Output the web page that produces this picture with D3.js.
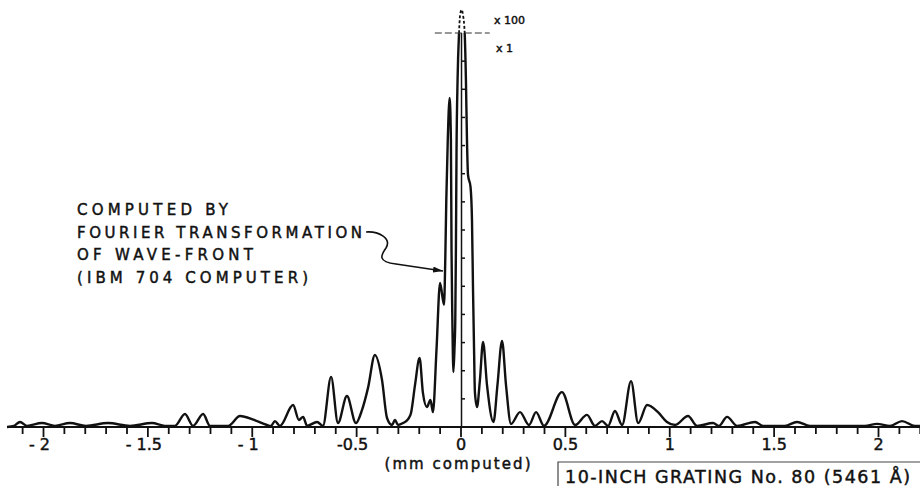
<!DOCTYPE html>
<html>
<head>
<meta charset="utf-8">
<script src="https://cdn.jsdelivr.net/npm/d3@7"></script>
<style>
body { margin: 0; background: #fff; }
text { font-family: "DejaVu Sans", sans-serif; fill: #111; stroke: #111; stroke-width: 0.45px; }
</style>
</head>
<body>
<svg width="920" height="486"></svg>
<script>
// [mm, intensity] pairs, left wing / central lobes / right wing
var leftWing = [
	[-2.172, 0], [-2.139, 0.04], [-2.110, 0.18], [-2.077, 0.04], [-2.005, 0.14], [-1.943, 0.04],
	[-1.871, 0.14], [-1.794, 0.04], [-1.689, 0.14], [-1.583, 0.04], [-1.478, 0.14], [-1.416, 0.04],
	[-1.368, 0.04], [-1.320, 0.46], [-1.281, 0.04], [-1.233, 0.46], [-1.200, 0.04], [-1.113, 0.04],
	[-1.056, 0.39], [-0.989, 0.25], [-0.927, 0.07], [-0.908, 0.04], [-0.889, 0.21], [-0.865, 0.04],
	[-0.802, 0.78], [-0.774, 0.25], [-0.754, 0.36], [-0.735, 0.04], [-0.687, 0.18], [-0.659, 0.04],
	[-0.620, 1.78], [-0.587, 0.14], [-0.544, 1.10], [-0.501, 0.14], [-0.472, 0.60], [-0.443, 1.39],
	[-0.410, 2.56], [-0.376, 1.67], [-0.352, 0.32], [-0.328, 0.07], [-0.314, 0.25], [-0.299, 0.07],
	[-0.275, 0.14], [-0.251, 0.28], [-0.237, 0.50], [-0.218, 1.49], [-0.196, 2.45], [-0.180, 1.21],
	[-0.161, 0.71], [-0.144, 0.96], [-0.132, 0.53], [-0.115, 2.74], [-0.098, 5.12]
];
var centralLobes = [
	[-0.079, 4.34], [-0.073, 5.93], [-0.068, 8.07], [-0.061, 10.20], [-0.052, 11.69], [-0.046, 10.20],
	[-0.043, 6.29], [-0.039, 3.80], [-0.034, 1.95], [-0.029, 2.74], [-0.025, 3.80], [-0.022, 6.29],
	[-0.019, 9.84], [-0.014, 12.33], [-0.007, 14.00], [-0.002, 14.64], [0.005, 14.82], [0.012, 14.64],
	[0.020, 14.00], [0.026, 12.33], [0.031, 10.20], [0.036, 8.96], [0.048, 8.53], [0.055, 7.36],
	[0.060, 4.87], [0.065, 2.74], [0.069, 1.24], [0.079, 0.71]
];
var rightWing = [
	[0.093, 1.67], [0.108, 3.02], [0.127, 1.49], [0.158, 0.18], [0.177, 1.49], [0.199, 3.06],
	[0.218, 1.49], [0.242, 0.11], [0.285, 0.53], [0.328, 0.07], [0.362, 0.53], [0.400, 0.04],
	[0.486, 1.24], [0.549, 0.07], [0.606, 0.43], [0.644, 0.04], [0.678, 0.21], [0.707, 0.04],
	[0.740, 0.57], [0.774, 0.07], [0.817, 1.63], [0.851, 0.14], [0.894, 0.78], [0.946, 0.53],
	[0.989, 0.18], [1.028, 0.07], [1.090, 0.39], [1.133, 0.04], [1.210, 0.14], [1.238, 0.04],
	[1.277, 0.36], [1.325, 0.04], [1.411, 0.18], [1.449, 0.04], [1.554, 0.04], [1.612, 0.18],
	[1.674, 0.04], [1.937, 0.04], [1.995, 0.11], [2.057, 0.04], [2.115, 0.21], [2.177, 0.04],
	[2.201, 0.04]
];
var majorTicks = [-2, -1.5, -1, -0.5, 0, 0.5, 1, 1.5, 2];
var tickLabels = ["- 2", "- 1.5", "- 1", "-0.5", "0", "0.5", "1", "1.5", "2"];
var yTicks = d3.range(1, 14);
var noteLines = ["COMPUTED BY", "FOURIER TRANSFORMATION", "OF WAVE-FRONT", "(IBM 704 COMPUTER)"];

var series = leftWing.concat(centralLobes, rightWing);

var svg = d3.select("svg");
var x = d3.scaleLinear().domain([-2, 2]).range([43, 878]);
var y = d3.scaleLinear().domain([0, 14]).range([427, 33]);

var defs = svg.append("defs");
defs.append("clipPath").attr("id", "below").append("rect")
	.attr("x", 0).attr("y", y(14)).attr("width", 920).attr("height", 486);
defs.append("clipPath").attr("id", "above").append("rect")
	.attr("x", 0).attr("y", 0).attr("width", 920).attr("height", y(14));
defs.append("marker").attr("id", "head")
	.attr("viewBox", "0 0 10 6").attr("refX", 10).attr("refY", 3)
	.attr("markerWidth", 10).attr("markerHeight", 6).attr("markerUnits", "userSpaceOnUse")
	.attr("orient", "auto")
	.append("path").attr("d", "M0,0 L10,3 L0,6 Z").attr("fill", "#111");

// x axis: baseline + minor + major ticks
var axisG = svg.append("g").attr("transform", "translate(0," + y(0) + ")");
axisG.append("line")
	.attr("x1", x(series[0][0])).attr("x2", 920)
	.attr("stroke", "#111").attr("stroke-width", 2.2);
var minor = d3.range(-21, 23).map(function(i) { return i / 10; })
	.filter(function(v) { return Math.abs(v * 2 - Math.round(v * 2)) > 1e-6; });
axisG.append("g")
	.call(d3.axisBottom(x).tickValues(minor).tickSize(7).tickSizeOuter(0).tickFormat(""))
	.call(function(g) { g.select(".domain").remove(); });
axisG.append("g")
	.call(d3.axisBottom(x).tickValues(majorTicks).tickSize(10).tickSizeOuter(0)
		.tickFormat(function(d, i) { return tickLabels[i]; }))
	.call(function(g) { g.select(".domain").remove(); });
axisG.selectAll(".tick line").attr("stroke", "#111").attr("stroke-width", 1.8);
axisG.selectAll(".tick text")
	.attr("y", 12).attr("dy", "0.71em")
	.attr("dx", function(d) { return d < 0 ? -4 : 0; })
	.style("font-size", "16px")
	.style("font-family", "DejaVu Sans, sans-serif").attr("fill", "#111");

// vertical scale at zero with ticks on the right
var vAxis = svg.append("g").attr("transform", "translate(" + (x(0) + 1) + ",0)");
vAxis.append("line").attr("y1", y(0)).attr("y2", y(14)).attr("stroke", "#111").attr("stroke-width", 1.5);
vAxis.selectAll("line.t").data(yTicks).enter().append("line").attr("class", "t")
	.attr("x1", 0).attr("x2", 3.5)
	.attr("y1", function(d) { return y(d); }).attr("y2", function(d) { return y(d); })
	.attr("stroke", "#111").attr("stroke-width", 1.5);

// curve
var line = d3.line()
	.curve(d3.curveMonotoneX)
	.x(function(d) { return x(d[0]); })
	.y(function(d) { return y(d[1]); });
svg.append("path").datum(series).attr("d", line)
	.attr("clip-path", "url(#below)")
	.attr("fill", "none").attr("stroke", "#111").attr("stroke-width", 2.4)
	.attr("stroke-linejoin", "round");
svg.append("path").datum(centralLobes).attr("d", line)
	.attr("clip-path", "url(#above)")
	.attr("fill", "none").attr("stroke", "#111").attr("stroke-width", 1.8)
	.attr("stroke-dasharray", "3,2");

// scale break
svg.append("line")
	.attr("x1", x(-0.123)).attr("x2", x(0.14)).attr("y1", y(14)).attr("y2", y(14))
	.attr("stroke", "#333").attr("stroke-width", 1.2).attr("stroke-dasharray", "7,3");
svg.append("text").attr("x", 494).attr("y", 24).style("font-size", "11px").text("x 100");
svg.append("text").attr("x", 496).attr("y", 52).style("font-size", "11px").text("x 1");

// annotation
var noteWidths = [151, 285, 176, 231];
svg.append("g").selectAll("text").data(noteLines).enter().append("text")
	.attr("x", 77)
	.attr("y", function(d, i) { return 215 + i * 22.7; })
	.attr("textLength", function(d, i) { return noteWidths[i]; })
	.attr("lengthAdjust", "spacing")
	.style("font-size", "15px")
	.text(function(d) { return d; });
svg.append("path")
	.attr("d", "M366,232 C378,231 392,238 386,248 C381,255 377,262 396,264 L443,271")
	.attr("fill", "none").attr("stroke", "#111").attr("stroke-width", 1.6)
	.attr("marker-end", "url(#head)");

// axis title and caption box
svg.append("text").attr("x", x(0) - 3).attr("y", 469).attr("text-anchor", "middle")
	.attr("textLength", 146).attr("lengthAdjust", "spacing")
	.style("font-size", "15px").text("(mm computed)");
svg.append("path").attr("d", "M558,486 L558,462 L920,462")
	.attr("fill", "none").attr("stroke", "#444").attr("stroke-width", 1.2);
svg.append("text").attr("x", 565).attr("y", 483)
	.attr("textLength", 345).attr("lengthAdjust", "spacing")
	.style("font-size", "17.5px").text("10-INCH GRATING No. 80 (5461 \u00C5)");
</script>
</body>
</html>
